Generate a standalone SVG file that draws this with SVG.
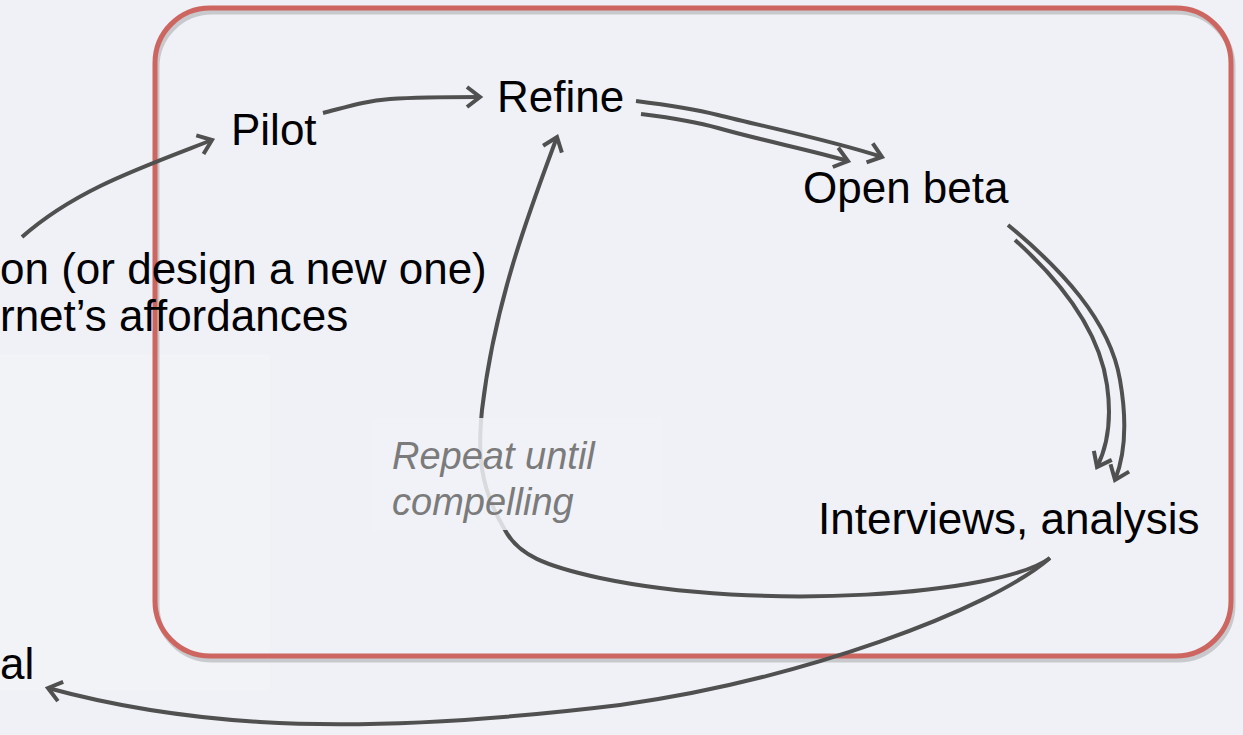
<svg xmlns="http://www.w3.org/2000/svg" width="1243" height="735" viewBox="0 0 1243 735">
<defs>
<style>
.lbl{font-family:"Liberation Sans",Arial,sans-serif;font-size:44px;fill:#000}
.note{font-family:"Liberation Sans",Arial,sans-serif;font-size:38px;font-style:italic;fill:#7b7b7b}
.c{fill:none;stroke:#505050;stroke-width:4;stroke-linecap:butt}
.a{marker-end:url(#ah)}
</style>
<marker id="ah" markerUnits="userSpaceOnUse" viewBox="0 0 26 26" refX="20" refY="13" markerWidth="26" markerHeight="26" orient="auto">
<path d="M7,3 L20,13 L7,23" fill="none" stroke="#505050" stroke-width="4"/>
</marker>
</defs>
<rect x="0" y="0" width="1243" height="735" fill="#eff1f6"/>
<rect x="0" y="355" width="270" height="335" fill="#f1f3f7"/>
<g id="frame">
<rect x="157" y="12" width="1076" height="648" rx="55" fill="none" stroke="#9a9a9a" stroke-opacity="0.45" stroke-width="5"/>
<rect x="155" y="8" width="1076" height="648" rx="55" fill="none" stroke="#cd6660" stroke-width="5"/>
</g>
<g id="connectors">
<path class="c a" d="M22,237 C 75,190 140,168 212,140"/>
<path class="c a" d="M323,113 C 350,106 365,101 390,99 C 420,97 450,97 480,97"/>
<path class="c a" d="M636,101 C 660,104 690,108 718,115 C 770,128 830,140 882,157"/>
<path class="c a" d="M641,114 C 665,117 690,120 718,128 C 760,140 810,150 848,161"/>
<path class="c a" d="M1008,225 C 1060,268 1110,320 1120,380 C 1127,420 1125,455 1115,480"/>
<path class="c a" d="M1015,240 C 1065,285 1100,335 1107,385 C 1112,420 1108,445 1097,467"/>
<path class="c a" d="M1050,558 C 1000,595 760,612 600,578 C 545,566 518,555 505,530 C 478,485 478,450 482,410 C 495,300 530,210 557,137"/>
<path class="c a" d="M1050,558 C 990,610 800,680 620,705 C 480,722 360,728 260,722 C 180,717 110,705 48,688"/>
</g>
<g id="note">
<rect x="372" y="418" width="290" height="112" fill="#f0f2f7" fill-opacity="0.85"/>
<text class="note" x="392" y="469">Repeat until</text>
<text class="note" x="392" y="515">compelling</text>
</g>
<g id="n-left"><text class="lbl" x="0" y="284">on (or design a new one)</text>
<text class="lbl" x="0" y="331">rnet’s affordances</text></g>
<g id="n-pilot"><text class="lbl" x="231" y="145">Pilot</text></g>
<g id="n-refine"><text class="lbl" x="497" y="112">Refine</text></g>
<g id="n-openbeta"><text class="lbl" x="803" y="203">Open beta</text></g>
<g id="n-interviews"><text class="lbl" x="818" y="534">Interviews, analysis</text></g>
<g id="n-al"><text class="lbl" x="0" y="679">al</text></g>
</svg>
